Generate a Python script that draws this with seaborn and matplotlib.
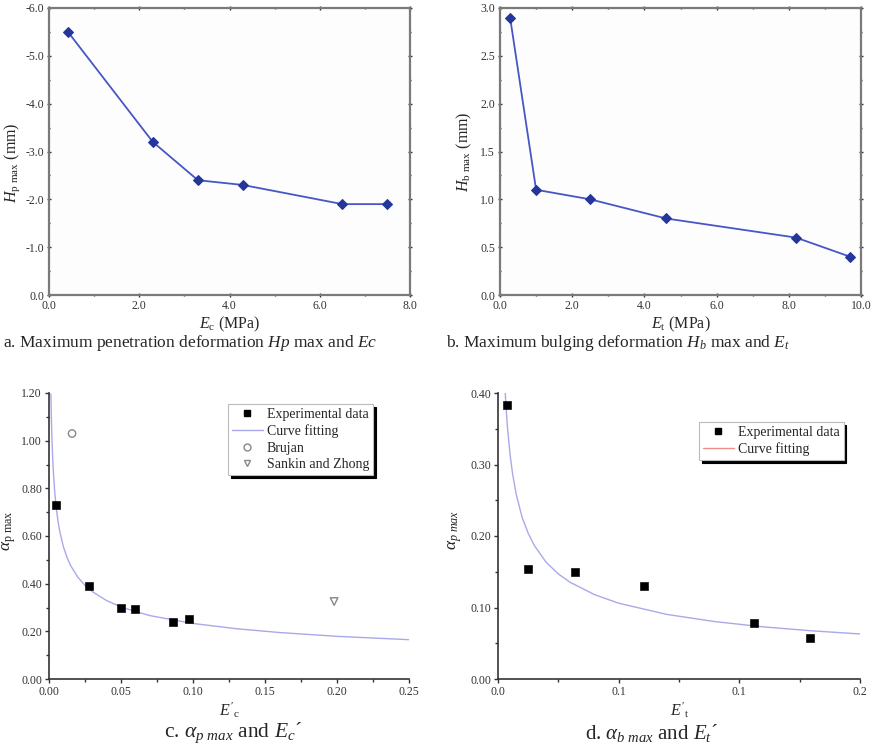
import numpy as np
import pandas as pd
import matplotlib
matplotlib.use("Agg")
import matplotlib.pyplot as plt
from matplotlib.ticker import MultipleLocator, FormatStrFormatter, FixedLocator, FixedFormatter
from matplotlib.lines import Line2D
import seaborn as sns

# ---------------- data ----------------
# panel a
ec_mpa = [0.42, 2.3, 3.3, 4.3, 6.5, 7.5]
hp_max = [-5.5, -3.2, -2.4, -2.3, -1.9, -1.9]
# panel b
et_mpa = [0.28, 1.0, 2.5, 4.6, 8.2, 9.7]
hb_max = [2.9, 1.1, 1.0, 0.8, 0.6, 0.4]
# panel c
ec_exp = [0.005, 0.028, 0.050, 0.060, 0.086, 0.097]
ap_exp = [0.73, 0.39, 0.30, 0.295, 0.24, 0.25]
ec_fit = [0.0013, 0.0016, 0.002, 0.0025, 0.003, 0.004, 0.005, 0.0062, 0.0075, 0.01,
          0.0125, 0.015, 0.02, 0.025, 0.03, 0.04, 0.05, 0.07, 0.10, 0.13, 0.16,
          0.20, 0.25]
ap_fit = [1.196, 1.106, 1.017, 0.935, 0.873, 0.783, 0.720, 0.664, 0.618, 0.555,
          0.510, 0.476, 0.427, 0.393, 0.367, 0.329, 0.302, 0.266, 0.233, 0.211,
          0.195, 0.179, 0.165]
brujan_x = [0.016]
brujan_y = [1.03]
sankin_x = [0.198]
sankin_y = [0.325]
# panel d
et_exp = [0.0037, 0.0124, 0.032, 0.0604, 0.1062, 0.1292]
ab_exp = [0.383, 0.154, 0.149, 0.130, 0.078, 0.057]
et_fit = [0.003, 0.0035, 0.004, 0.005, 0.006, 0.0075, 0.01, 0.0125, 0.015, 0.02,
          0.025, 0.03, 0.04, 0.05, 0.07, 0.09, 0.11, 0.13, 0.15]
ab_fit = [0.400, 0.372, 0.349, 0.314, 0.288, 0.259, 0.226, 0.204, 0.187, 0.163,
          0.147, 0.135, 0.118, 0.106, 0.0903, 0.0802, 0.0729, 0.0674, 0.063]
d_xticks = [0.0, 0.05, 0.10, 0.15]
d_xticklabels = ["0.0", "0.1", "0.1", "0.2"]

# ---------------- style ----------------
sns.set_theme(style="ticks")
plt.rcParams["font.family"] = ["Liberation Serif", "DejaVu Serif"]
plt.rcParams["mathtext.fontset"] = "custom"
plt.rcParams["mathtext.rm"] = "Liberation Serif"
plt.rcParams["mathtext.it"] = "Liberation Serif:italic"
plt.rcParams["mathtext.bf"] = "Liberation Serif:bold"

fig = plt.figure(figsize=(8.74, 7.5), dpi=100)
W, H = 874.0, 750.0

def add_ax(l, t, r, b):
    return fig.add_axes([l / W, 1 - b / H, (r - l) / W, (b - t) / H])

ax_a = add_ax(49, 8, 410, 295)
ax_b = add_ax(500, 8, 861, 295)
ax_c = add_ax(49, 393, 409, 679)
ax_d = add_ax(498, 393, 860, 679)

line_col = "#4657c4"
mark_col = "#24369c"
fit_col = "#a9a9ea"
tick_fs = 8.5
lab_fs = 11.5
tick_col = "#333333"

def style_top(ax):
    for s in ax.spines.values():
        s.set_color("#7a7a7a")
        s.set_linewidth(1.6)
    ax.tick_params(which="both", direction="inout", top=True, right=True,
                   labelsize=tick_fs, colors=tick_col, width=1.0, pad=2)
    ax.tick_params(which="major", length=3)
    ax.tick_params(which="minor", length=2)
    ax.set_facecolor("#fdfdfd")

def style_bottom(ax):
    sns.despine(ax=ax)
    for s in ["left", "bottom"]:
        ax.spines[s].set_color("#333333")
        ax.spines[s].set_linewidth(1.2)
    ax.tick_params(which="both", direction="out", labelsize=tick_fs,
                   colors=tick_col, width=1.0, pad=2)
    ax.tick_params(which="major", length=3)
    ax.tick_params(which="minor", length=2)

# ---------------- panel a ----------------
df_a = pd.DataFrame({"x": ec_mpa, "y": hp_max})
sns.lineplot(data=df_a, x="x", y="y", ax=ax_a, color=line_col, lw=1.3,
             marker="D", markersize=5, markerfacecolor=mark_col,
             markeredgecolor=mark_col)
ax_a.set_xlim(0, 8)
ax_a.set_ylim(0, -6)
ax_a.xaxis.set_major_locator(FixedLocator([0, 2, 4, 6, 8]))
ax_a.xaxis.set_major_formatter(FixedFormatter(["0.0", "2.0", "4.0", "6.0", "8.0"]))
ax_a.xaxis.set_minor_locator(MultipleLocator(1))
ax_a.yaxis.set_major_locator(FixedLocator([0, -1, -2, -3, -4, -5, -6]))
ax_a.yaxis.set_major_formatter(FixedFormatter(["0.0", "-1.0", "-2.0", "-3.0", "-4.0", "-5.0", "-6.0"]))
ax_a.yaxis.set_minor_locator(MultipleLocator(0.5))
style_top(ax_a)
ax_a.set_xlabel(r"$E_{\mathrm{c}}$ (MPa)", fontsize=lab_fs, labelpad=2)
ax_a.set_ylabel(r"$H_{\mathrm{p\ max}}$ (mm)", fontsize=lab_fs)
ax_a.yaxis.set_label_coords(-0.075, 0.46)

# ---------------- panel b ----------------
df_b = pd.DataFrame({"x": et_mpa, "y": hb_max})
sns.lineplot(data=df_b, x="x", y="y", ax=ax_b, color=line_col, lw=1.3,
             marker="D", markersize=5, markerfacecolor=mark_col,
             markeredgecolor=mark_col)
ax_b.set_xlim(0, 10)
ax_b.set_ylim(0, 3)
ax_b.xaxis.set_major_locator(MultipleLocator(2))
ax_b.xaxis.set_minor_locator(MultipleLocator(1))
ax_b.yaxis.set_major_locator(MultipleLocator(0.5))
ax_b.yaxis.set_minor_locator(MultipleLocator(0.25))
ax_b.xaxis.set_major_formatter(FormatStrFormatter("%.1f"))
ax_b.yaxis.set_major_formatter(FormatStrFormatter("%.1f"))
style_top(ax_b)
ax_b.set_xlabel(r"$E_{\mathrm{t}}$ (MPa)", fontsize=lab_fs, labelpad=2)
ax_b.set_ylabel(r"$H_{\mathrm{b\ max}}$ (mm)", fontsize=lab_fs)
ax_b.yaxis.set_label_coords(-0.072, 0.5)

# ---------------- panel c ----------------
sns.lineplot(x=ec_fit, y=ap_fit, ax=ax_c, color=fit_col, lw=1.0, sort=False)
sns.scatterplot(x=ec_exp, y=ap_exp, ax=ax_c, marker="s", s=30, color="black",
                edgecolor="black", zorder=3)
sns.scatterplot(x=brujan_x, y=brujan_y, ax=ax_c, marker="o", s=28,
                facecolor="none", edgecolor="#888888", linewidth=1.0, zorder=3)
sns.scatterplot(x=sankin_x, y=sankin_y, ax=ax_c, marker="v", s=30,
                facecolor="none", edgecolor="#888888", linewidth=1.0, zorder=3)
ax_c.set_xlim(0, 0.25)
ax_c.set_ylim(0, 1.2)
ax_c.xaxis.set_major_locator(MultipleLocator(0.05))
ax_c.xaxis.set_minor_locator(MultipleLocator(0.025))
ax_c.yaxis.set_major_locator(MultipleLocator(0.2))
ax_c.yaxis.set_minor_locator(MultipleLocator(0.1))
ax_c.xaxis.set_major_formatter(FormatStrFormatter("%.2f"))
ax_c.yaxis.set_major_formatter(FormatStrFormatter("%.2f"))
style_bottom(ax_c)
ax_c.set_xlabel(r"$E'_{\mathrm{c}}$", fontsize=lab_fs, labelpad=2)
ax_c.set_ylabel(r"$\alpha_{\mathrm{p\ max}}$", fontsize=12.5)
ax_c.yaxis.set_label_coords(-0.086, 0.52)

h_c = [
    Line2D([], [], ls="none", marker="s", ms=5, color="black"),
    Line2D([], [], color=fit_col, lw=1.0),
    Line2D([], [], ls="none", marker="o", ms=5, mfc="none", mec="#888888"),
    Line2D([], [], ls="none", marker="v", ms=5, mfc="none", mec="#888888"),
]
leg_c = ax_c.legend(h_c, ["Experimental data", "Curve fitting", "Brujan", "Sankin and Zhong"],
                    loc="upper left", bbox_to_anchor=(0.497, 0.962), borderaxespad=0,
                    fontsize=10, frameon=True, fancybox=False,
                    shadow={"color": "black", "alpha": 1.0},
                    handlelength=2.2, handletextpad=0.3, labelspacing=0.25,
                    borderpad=0.3)
leg_c.get_frame().set_edgecolor("#bbbbbb")
leg_c.get_frame().set_linewidth(0.8)

# ---------------- panel d ----------------
sns.lineplot(x=et_fit, y=ab_fit, ax=ax_d, color=fit_col, lw=1.0, sort=False)
sns.scatterplot(x=et_exp, y=ab_exp, ax=ax_d, marker="s", s=30, color="black",
                edgecolor="black", zorder=3)
ax_d.set_xlim(0, 0.15)
ax_d.set_ylim(0, 0.4)
ax_d.xaxis.set_major_locator(FixedLocator(d_xticks))
ax_d.xaxis.set_major_formatter(FixedFormatter(d_xticklabels))
ax_d.xaxis.set_minor_locator(MultipleLocator(0.025))
ax_d.yaxis.set_major_locator(MultipleLocator(0.1))
ax_d.yaxis.set_minor_locator(MultipleLocator(0.05))
ax_d.yaxis.set_major_formatter(FormatStrFormatter("%.2f"))
style_bottom(ax_d)
ax_d.set_xlabel(r"$E'_{\mathrm{t}}$", fontsize=lab_fs, labelpad=2)
ax_d.set_ylabel(r"$\alpha_{p\ max}$", fontsize=12.5)
ax_d.yaxis.set_label_coords(-0.094, 0.52)

h_d = [
    Line2D([], [], ls="none", marker="s", ms=5, color="black"),
    Line2D([], [], color="#f08c8c", lw=1.0),
]
leg_d = ax_d.legend(h_d, ["Experimental data", "Curve fitting"],
                    loc="upper left", bbox_to_anchor=(0.555, 0.899), borderaxespad=0,
                    fontsize=10, frameon=True, fancybox=False,
                    shadow={"color": "black", "alpha": 1.0},
                    handlelength=2.2, handletextpad=0.3, labelspacing=0.2,
                    borderpad=0.3)
leg_d.get_frame().set_edgecolor("#bbbbbb")
leg_d.get_frame().set_linewidth(0.8)

# ---------------- captions ----------------
fig.text(190 / W, 1 - 343 / H,
         r"a. Maximum penetration deformation $Hp$ max and $Ec$",
         ha="center", va="center", fontsize=12.5)
fig.text(618 / W, 1 - 343 / H,
         r"b. Maximum bulging deformation $H_b$ max and $E_t$",
         ha="center", va="center", fontsize=12.5)
fig.text(233 / W, 1 - 733 / H,
         r"c. $\alpha_{p\ max}$ and $E_c$´",
         ha="center", va="center", fontsize=15.5)
fig.text(652 / W, 1 - 733 / H,
         r"d. $\alpha_{b\ max}$ and $E_t$´",
         ha="center", va="center", fontsize=15)

fig.savefig("out.png", dpi=100)
